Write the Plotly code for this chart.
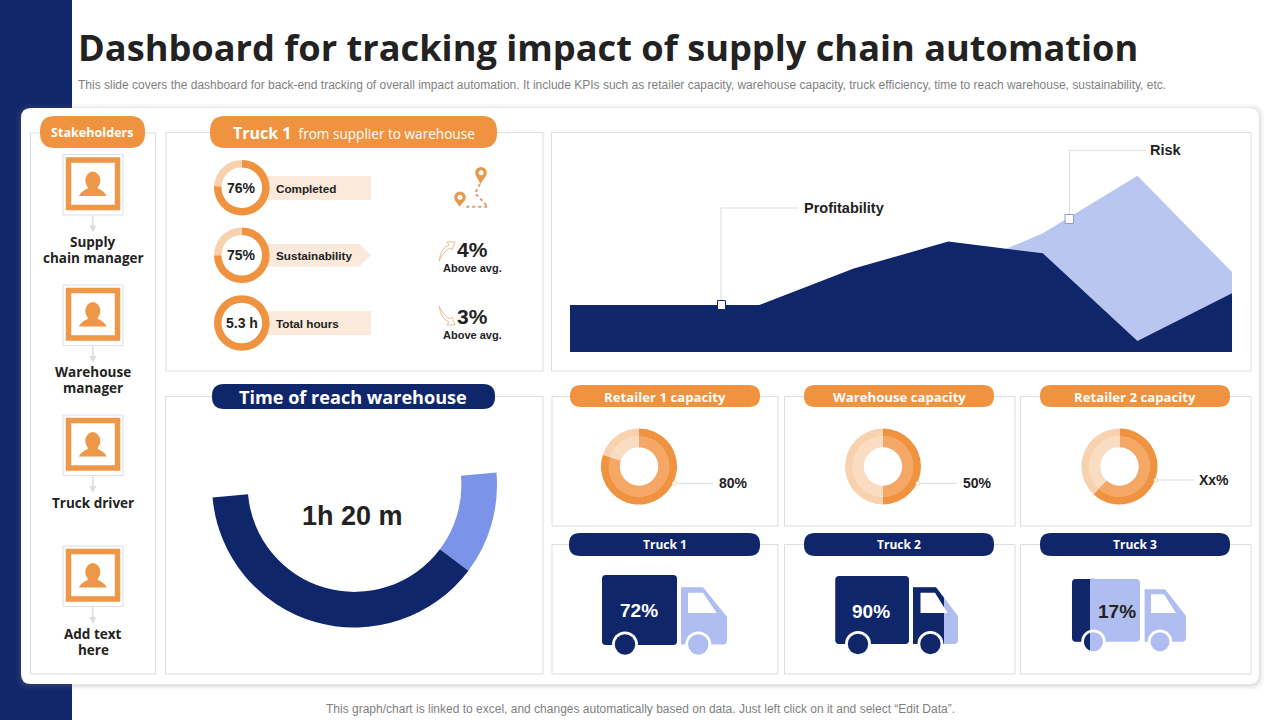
import math
import plotly.graph_objects as go

NAVY = '#10266B'
ORANGE = '#F09340'
ORANGE_LIGHT = '#F8D2AE'
ORANGE_MID = '#F5A765'
ORANGE_PALE = '#FADCC2'
BAR_BG = '#FBE9DB'
BLUE_LIGHT = '#B9C7F0'
BLUE_MID = '#7B93E8'
BLUE_TRUCK = '#AFBDF0'
LINE = '#DADDE2'
DARK = '#222222'

title_text = 'Dashboard for tracking impact of supply chain automation'
subtitle_text = ('This slide covers the dashboard for back-end tracking of overall impact automation. '
                 'It include KPIs such as retailer capacity, warehouse capacity, truck efficiency, '
                 'time to reach warehouse, sustainability, etc.')
footer_text = ('This graph/chart is linked to excel, and changes automatically based on data. '
               'Just left click on it and select “Edit Data”.')

stakeholders = ['Supply<br>chain manager', 'Warehouse<br>manager', 'Truck driver', 'Add text<br>here']

ring_labels = ['76%', '75%', '5.3 h']
ring_names = ['Completed', 'Sustainability', 'Total hours']
ring_values = [[76, 24], [75, 25], [100, 0]]
delta_labels = ['4%', '3%']

area_steps = [0, 1, 2, 3, 4, 5, 6, 7]
profitability = [20, 20, 20, 35.5, 47, 42, 4.7, 25]
risk = [15, 15, 15, 25, 33.5, 50.5, 75, 34]

reach_label = '1h 20 m'
reach_values = [23.3, 76.7, 100]

capacity_names = ['Retailer 1 capacity', 'Warehouse capacity', 'Retailer 2 capacity']
capacity_labels = ['80%', '50%', 'Xx%']
capacity_values = [[80, 20], [50, 50], [62, 38]]

truck_names = ['Truck 1', 'Truck 2', 'Truck 3']
truck_labels = ['72%', '90%', '17%']

shapes = []
annotations = []
pies = []


def px(x):
    return x / 1280


def py(y):
    return 1 - y / 720


def path_from(points):
    return 'M ' + ' L '.join(f'{px(x):.5f} {py(y):.5f}' for x, y in points) + ' Z'


def rrect_path(x0, y0, x1, y1, r):
    p = lambda x, y: f'{px(x):.5f} {py(y):.5f}'
    return (f'M {p(x0 + r, y0)} L {p(x1 - r, y0)} Q {p(x1, y0)} {p(x1, y0 + r)} '
            f'L {p(x1, y1 - r)} Q {p(x1, y1)} {p(x1 - r, y1)} '
            f'L {p(x0 + r, y1)} Q {p(x0, y1)} {p(x0, y1 - r)} '
            f'L {p(x0, y0 + r)} Q {p(x0, y0)} {p(x0 + r, y0)} Z')


def add_path(path, fill=None, line=None, width=1, layer='below', opacity=1, dash=None):
    shapes.append(dict(type='path', path=path, xref='paper', yref='paper', layer=layer, opacity=opacity,
                       fillcolor=fill or 'rgba(0,0,0,0)',
                       line=dict(color=line or 'rgba(0,0,0,0)', width=width if line else 0, dash=dash)))


def add_rect(x0, y0, x1, y1, fill=None, line=None, width=1, r=0, layer='below', opacity=1):
    add_path(rrect_path(x0, y0, x1, y1, r), fill, line, width, layer, opacity)


def add_line(points, color=LINE, width=1, layer='below', dash=None):
    p = 'M ' + ' L '.join(f'{px(x):.5f} {py(y):.5f}' for x, y in points)
    add_path(p, None, color, width, layer, dash=dash)


def add_circle(cx, cy, r, fill=None, line=None, width=1, layer='below'):
    shapes.append(dict(type='circle', xref='paper', yref='paper', layer=layer,
                       x0=px(cx - r), x1=px(cx + r), y0=py(cy + r), y1=py(cy - r),
                       fillcolor=fill or 'rgba(0,0,0,0)',
                       line=dict(color=line or 'rgba(0,0,0,0)', width=width if line else 0)))


def add_text(x, y, text, size=12, color=DARK, font='Liberation Sans', bold=False, anchor='center'):
    # annotations sit about 2px in from their anchor
    if anchor == 'left':
        x -= 2
    annotations.append(dict(x=px(x), y=py(y), xref='paper', yref='paper', showarrow=False,
                            text=f'<b>{text}</b>' if bold else text, xanchor=anchor, yanchor='middle',
                            align='center', font=dict(family=font, size=size, color=color)))


def add_pie(cx, cy, r, values, colors, hole, rotation=0):
    pies.append(go.Pie(values=values, sort=False, direction='clockwise', rotation=rotation, hole=hole,
                       domain=dict(x=[px(cx - r), px(cx + r)], y=[py(cy + r), py(cy - r)]),
                       marker=dict(colors=colors, line=dict(width=0)),
                       textinfo='none', hoverinfo='skip', showlegend=False))


def person_icon(y):
    # y is the top of the thin frame
    add_rect(63, y, 123, y + 60.5, fill='white', line='#D8DEEA', width=1)
    add_rect(68.5, y + 5.5, 117.5, y + 53, line='#EE9748', width=5.5)
    cx = 92.8
    add_path(f'M {px(cx - 14)} {py(y + 41.5)} Q {px(cx - 11)} {py(y + 36)} {px(cx - 5)} {py(y + 34)} '
             f'L {px(cx - 5)} {py(y + 30)} L {px(cx + 5)} {py(y + 30)} L {px(cx + 5)} {py(y + 34)} '
             f'Q {px(cx + 11)} {py(y + 36)} {px(cx + 14)} {py(y + 41.5)} Z', fill='#EE9748')
    shapes.append(dict(type='circle', xref='paper', yref='paper', layer='below', fillcolor='#EE9748',
                       x0=px(cx - 7.5), x1=px(cx + 7.5), y0=py(y + 35), y1=py(y + 17),
                       line=dict(width=0)))
    add_line([(cx, y + 61), (cx, y + 72)], color='#DADDE2', width=1.5)
    add_path(path_from([(cx - 3.5, y + 71), (cx + 3.5, y + 71), (cx, y + 78)]), fill='#DADDE2')


def circle_points(cx, cy, r, a0=0.0, a1=2 * math.pi, n=48):
    return [(cx + r * math.cos(a0 + (a1 - a0) * i / n), cy + r * math.sin(a0 + (a1 - a0) * i / n))
            for i in range(n + 1)]


def draw_truck(box, cab, cab_top_x, cab_side_y, window, window_top_x, wheels, r, cut, base):
    bx0, by0, bx1, by1 = box
    cx0, cy0, cx1 = cab
    wx0, wy0, wx1, wy1 = window

    def cab_poly(right):
        pts = [(cx0, cy0)]
        if right <= cab_top_x:
            return [(cx0, cy0), (right, cy0), (right, base), (cx0, base)]
        pts.append((cab_top_x, cy0))
        if right >= cx1:
            pts += [(cx1, cab_side_y), (cx1, base - 3), (cx1 - 1, base - 1), (cx1 - 3, base)]
        else:
            t = (right - cab_top_x) / (cx1 - cab_top_x)
            pts += [(right, cy0 + t * (cab_side_y - cy0)), (right, base)]
        pts.append((cx0, base))
        return pts

    add_rect(bx0, by0, bx1, by1, fill=BLUE_TRUCK, r=4)
    add_path(path_from(cab_poly(cx1)), fill=BLUE_TRUCK)
    if cut >= bx1:
        add_rect(bx0, by0, bx1, by1, fill=NAVY, r=4)
    else:
        add_rect(bx0, by0, cut + 4, by1, fill=NAVY, r=4)
        add_rect(cut, by0 - 0.5, cut + 5, by1 + 0.5, fill=BLUE_TRUCK)
    if cut > cx0:
        add_path(path_from(cab_poly(cut)), fill=NAVY)
    add_path(path_from([(wx0, wy0), (window_top_x, wy0), (wx1, wy1), (wx0, wy1)]), fill='white')
    for wx in wheels:
        add_circle(wx, base, r + 2.8, fill='white')
        if cut >= wx + r:
            add_circle(wx, base, r, fill=NAVY)
        else:
            add_circle(wx, base, r, fill=BLUE_TRUCK)
            if cut > wx - r:
                a = math.acos((cut - wx) / r)
                add_path(path_from(circle_points(wx, base, r, a, 2 * math.pi - a)), fill=NAVY)


# page background and card
add_rect(0, -2, 72, 722, fill=NAVY)
for grow, alpha in [(5, 0.05), (3, 0.07), (1.5, 0.1)]:
    add_rect(21 - grow, 108 - grow + 1, 1259 + grow, 684 + grow + 1, fill='#808080', r=11, opacity=alpha)
add_rect(21, 108, 1259, 684, fill='white', r=10)

add_text(77.5, 47.5, title_text, size=36.2, color=DARK, font='Open Sans', bold=True, anchor='left')
add_text(78, 84.5, subtitle_text, size=12, color='#7F7F7F', anchor='left')
add_text(640.5, 708.5, footer_text, size=12, color='#7F7F7F')

# panels
panels = [(30.5, 133, 155.5, 674), (166, 132.5, 543, 371), (551.5, 132.5, 1251, 371), (165.5, 396.5, 543, 674),
          (552, 396.5, 778, 526), (784.5, 396.5, 1015, 526), (1020.5, 396.5, 1251, 526),
          (552, 544.5, 778, 674), (784.5, 544.5, 1015, 674), (1020.5, 544.5, 1251, 674)]
for p_box in panels:
    add_rect(*p_box, line=LINE, width=1)

# stakeholders column
add_rect(40, 116, 145, 148, fill=ORANGE, r=15)
add_text(92.5, 132.5, 'Stakeholders', size=12.6, color='white', font='Open Sans', bold=True)
for top in [154.5, 285, 415, 546]:
    person_icon(top)
for name, y in zip(stakeholders, [250, 380, 503, 642]):
    lines = name.split('<br>')
    for j, line in enumerate(lines):
        add_text(93, y + (j - (len(lines) - 1) / 2) * 16, line, size=13.5, font='Open Sans', bold=True)

# truck 1 panel
add_rect(210, 116, 497, 148, fill=ORANGE, r=15)
add_text(353.5, 133, '<b><span style="font-size:16px">Truck 1</span></b>  from supplier to warehouse',
         size=13.6, color='white', font='Open Sans')
ring_ys = [187.7, 255.2, 323]
for y, label, name, values in zip(ring_ys, ring_labels, ring_names, ring_values):
    if name == 'Sustainability':
        add_path(path_from([(262, y - 11.5), (359, y - 11.5), (371, y), (359, y + 11.5), (262, y + 11.5)]), fill=BAR_BG)
    else:
        add_rect(262, y - 11.7, 371, y + 12.3, fill=BAR_BG)
    add_pie(241.8, y, 27.8, values, [ORANGE, ORANGE_LIGHT], 0.73)
    add_text(241.5, y, label, size=14, bold=True)
    add_text(275.5, y + 0.5, name, size=11.7, bold=True, anchor='left')

# route icon
add_line([(480, 184), (475, 193.3), (488, 206.7), (463, 206.7)], color='#D9A066', width=2, dash='dot')
for cx, cy, tip in [(481, 172.7, 184), (460, 197.3, 206.7)]:
    add_path(path_from([(cx - 5.2, cy + 2.5), (cx + 5.2, cy + 2.5), (cx - 0.5, tip)]), fill='#E8984A')
    add_circle(cx, cy, 5.8, fill='#E8984A')
    add_circle(cx, cy, 2.5, fill='white')

# delta callouts
for y, label in zip([249.5, 316.5], delta_labels):
    add_text(472, y, label, size=21, bold=True)
    add_text(472.5, y + 18.5, 'Above avg.', size=11, bold=True)
p = lambda x, y: f'{px(x):.5f} {py(y):.5f}'
add_path(f'M {p(439, 261)} Q {p(441, 248)} {p(449, 245)} L {p(447, 242)} L {p(455, 242)} L {p(452, 250)} '
         f'L {p(450, 248)} Q {p(443, 252)} {p(439, 261)} Z', line='#E6BE92', width=1)
add_path(f'M {p(439, 306)} Q {p(441, 319)} {p(449, 322)} L {p(447, 325)} L {p(455, 325)} L {p(452, 317)} '
         f'L {p(450, 319)} Q {p(443, 315)} {p(439, 306)} Z', line='#E6BE92', width=1)

# callouts on the area chart
add_line([(721, 305), (721, 208), (798, 208)], layer='above')
add_rect(717.5, 300.5, 725.5, 309.5, fill='white', line=NAVY, width=1, layer='above')
add_text(804, 208, 'Profitability', size=14.5, bold=True, anchor='left')
add_line([(1069.5, 219), (1069.5, 150.5), (1146, 150.5)], layer='above')
add_rect(1065, 214.5, 1073.5, 223.5, fill='white', line='#8C9BCF', width=1, layer='above')
add_text(1150, 150, 'Risk', size=14.5, bold=True, anchor='left')

# time of reach
add_rect(212, 384, 495, 409, fill=NAVY, r=12)
add_text(353, 396.5, 'Time of reach warehouse', size=18.1, color='white', font='Open Sans', bold=True)
add_pie(354.5, 485, 142.5, reach_values, [BLUE_MID, NAVY, 'rgba(0,0,0,0)'], 0.75, rotation=85)
add_text(352.5, 516, reach_label, size=27, bold=True)

# capacity donuts
capacity_x = [639, 883, 1119.5]
pill_x = [(570, 760), (804, 994), (1040, 1230)]
cap_y = [483.3, 483.3, 480]
cap_line = [(674.5, 713), (918, 957), (1156, 1194.5)]
cap_text = [733.5, 977.5, 1213.5]
for i in range(3):
    add_rect(pill_x[i][0], 385, pill_x[i][1], 407, fill=ORANGE, r=11)
    add_text(sum(pill_x[i]) / 2, 396.5, capacity_names[i], size=13.2, color='white', font='Open Sans', bold=True)
    add_pie(capacity_x[i], 466.5, 38, capacity_values[i], [ORANGE, ORANGE_LIGHT], 0.79)
    add_pie(capacity_x[i], 466.5, 30.5, capacity_values[i], [ORANGE_MID, ORANGE_PALE], 0.63)
    add_line([(cap_line[i][0], cap_y[i]), (cap_line[i][1], cap_y[i])], layer='above')
    add_circle(cap_line[i][0], cap_y[i], 2, fill='white', line=ORANGE_LIGHT, layer='above')
    add_text(cap_text[i], cap_y[i], capacity_labels[i], size=14, bold=True)

# trucks
for i in range(3):
    add_rect(pill_x[i][0] - (1 if i == 0 else 0), 533, pill_x[i][1], 556, fill=NAVY, r=11)
    add_text(sum(pill_x[i]) / 2, 544.5, truck_names[i], size=12, color='white', font='Open Sans', bold=True)
draw_truck((602, 575, 677, 645), (681, 587.3, 727), 703, 616.7, (688, 592.7, 716.7, 613), 703,
           (625, 698.3), 10.2, 679, 644.5)
draw_truck((835.3, 576, 909, 644), (913, 587.3, 958), 936, 616, (920.5, 592.7, 947.6, 613), 935,
           (858, 930.4), 10.2, 944, 644)
draw_truck((1072, 579, 1140, 641.7), (1144.6, 589.3, 1186), 1165, 616, (1151, 594.3, 1176, 613), 1164,
           (1093.5, 1160), 9.5, 1090, 641.7)
for x, y, label, color in zip([639, 871, 1117], [610, 611, 611], truck_labels, ['white', 'white', DARK]):
    add_text(x, y, label, size=19, color=color, bold=True)

fig = go.Figure()
fig.add_trace(go.Scatter(x=area_steps, y=risk, mode='none', fill='tozeroy', fillcolor=BLUE_LIGHT,
                         name='Risk', hoverinfo='skip', showlegend=False))
fig.add_trace(go.Scatter(x=area_steps, y=profitability, mode='none', fill='tozeroy', fillcolor=NAVY,
                         name='Profitability', hoverinfo='skip', showlegend=False))
for pie in pies:
    fig.add_trace(pie)

fig.update_layout(
    width=1280, height=720, margin=dict(l=0, r=0, t=0, b=0, pad=0),
    paper_bgcolor='white', plot_bgcolor='rgba(0,0,0,0)',
    shapes=shapes, annotations=annotations, showlegend=False,
    xaxis=dict(domain=[px(570), px(1232)], range=[0, 7], visible=False, fixedrange=True),
    yaxis=dict(domain=[py(352), py(117)], range=[0, 100], visible=False, fixedrange=True),
)

fig.write_html("out.html", config={'displayModeBar': False},
               post_script="document.body.style.margin='0';document.body.style.overflow='hidden';")
